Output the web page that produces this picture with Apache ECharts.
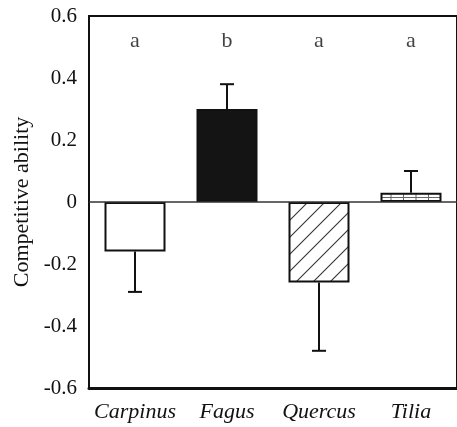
<!DOCTYPE html>
<html>
<head>
<meta charset="utf-8">
<script src="https://cdn.jsdelivr.net/npm/echarts@6/dist/echarts.min.js"></script>
<style>
  html, body { margin: 0; padding: 0; background: #fff; }
  #chart { width: 457px; height: 427px; }
</style>
</head>
<body>
<div id="chart"></div>
<script>
const categories = ['Carpinus', 'Fagus', 'Quercus', 'Tilia']
const values = [-0.16, 0.30, -0.26, 0.03]
const errors = [0.13, 0.08, 0.22, 0.07]
const letters = ['a', 'b', 'a', 'a']
const letterLevel = 0.52

const serif = '"Liberation Serif", "DejaVu Serif", serif'

function hatchPattern() {
  const c = document.createElement('canvas')
  c.width = 17
  c.height = 17
  const ctx = c.getContext('2d')
  ctx.fillStyle = '#fff'
  ctx.fillRect(0, 0, 17, 17)
  ctx.strokeStyle = '#333'
  ctx.lineWidth = 1.1
  ctx.beginPath()
  ctx.moveTo(-2, 19); ctx.lineTo(19, -2)
  ctx.moveTo(-19, 19); ctx.lineTo(2, -2)
  ctx.moveTo(15, 19); ctx.lineTo(36, -2)
  ctx.stroke()
  return c
}

function gridPattern() {
  const c = document.createElement('canvas')
  c.width = 25
  c.height = 10
  const ctx = c.getContext('2d')
  ctx.fillStyle = '#fff'
  ctx.fillRect(0, 0, 25, 10)
  ctx.strokeStyle = '#666'
  ctx.lineWidth = 1
  ctx.beginPath()
  ctx.moveTo(0, 7.5); ctx.lineTo(25, 7.5)
  ctx.moveTo(3.5, 0); ctx.lineTo(3.5, 10)
  ctx.moveTo(16, 0); ctx.lineTo(16, 10)
  ctx.stroke()
  return c
}

const fills = [
  '#fff',
  '#141414',
  { image: hatchPattern(), repeat: 'repeat' },
  { image: gridPattern(), repeat: 'repeat' }
]

const chart = echarts.init(document.getElementById('chart'))
chart.setOption({
  animation: false,
  grid: {
    left: 89,
    top: 16,
    width: 372,
    height: 372,
    show: true,
    borderColor: '#111',
    borderWidth: 2
  },
  xAxis: {
    type: 'category',
    data: categories,
    axisLine: { onZero: false, lineStyle: { color: '#111', width: 3 } },
    axisTick: { show: false },
    axisLabel: {
      interval: 0,
      margin: 13,
      color: '#111',
      fontFamily: serif,
      fontStyle: 'italic',
      fontSize: 22
    }
  },
  yAxis: {
    type: 'value',
    min: -0.6,
    max: 0.6,
    interval: 0.2,
    name: 'Competitive ability',
    nameLocation: 'middle',
    nameGap: 56,
    nameTextStyle: { color: '#111', fontFamily: serif, fontSize: 22 },
    splitLine: { show: false },
    axisLine: { lineStyle: { color: '#111', width: 2.5 } },
    axisTick: { inside: true, length: 10, lineStyle: { color: '#111', width: 1.5 } },
    axisLabel: {
      margin: 12,
      color: '#111',
      fontFamily: serif,
      fontSize: 21,
      formatter(v) {
        return String(Math.round(v * 10) / 10)
      }
    }
  },
  series: [
    {
      type: 'bar',
      barWidth: 61,
      data: values.map((v, i) => ({
        value: v,
        itemStyle: { color: fills[i], borderColor: '#111', borderWidth: 2 }
      })),
      markLine: {
        silent: true,
        symbol: 'none',
        label: { show: false },
        lineStyle: { color: '#333', width: 1.5, type: 'solid' },
        data: [{ yAxis: 0 }]
      },
      z: 2
    },
    {
      type: 'custom',
      data: values.map((v, i) => [i, v, errors[i]]),
      renderItem(params, api) {
        const v = api.value(1)
        const e = api.value(2)
        const end = v < 0 ? v - e : v + e
        const p0 = api.coord([api.value(0), v])
        const p1 = api.coord([api.value(0), end])
        const cap = 7
        const style = { stroke: '#111', lineWidth: 2 }
        return {
          type: 'group',
          children: [
            { type: 'line', shape: { x1: p0[0], y1: p0[1], x2: p1[0], y2: p1[1] }, style },
            { type: 'line', shape: { x1: p1[0] - cap, y1: p1[1], x2: p1[0] + cap, y2: p1[1] }, style }
          ]
        }
      },
      z: 3
    },
    {
      type: 'scatter',
      symbolSize: 0,
      data: letters.map((l, i) => [i, letterLevel]),
      label: {
        show: true,
        position: 'inside',
        color: '#111',
        fontFamily: serif,
        fontSize: 22,
        formatter(p) {
          return letters[p.dataIndex]
        }
      }
    }
  ]
})
</script>
</body>
</html>
